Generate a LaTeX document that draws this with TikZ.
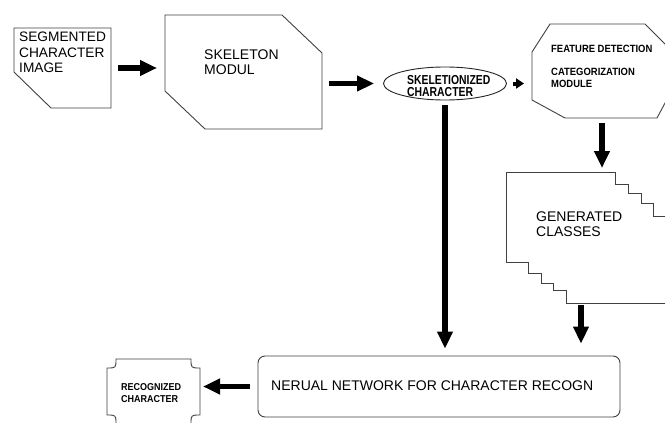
\documentclass[tikz,border=0pt]{standalone}
\usepackage{fontspec}
\setmainfont{Liberation Sans}
\newfontfamily\condfont[FakeStretch=0.8]{Liberation Sans}
\newfontfamily\semicond[FakeStretch=0.9]{Liberation Sans}
\usetikzlibrary{arrows.meta,shapes.geometric}
\begin{document}
\begin{tikzpicture}[x=1pt,y=-1pt,
  outline/.style={draw=black!75, line width=0.9pt, line join=miter},
  box/.style={draw=none, inner sep=0pt, outer sep=0pt, rectangle},
  txt/.style={inner sep=0pt, anchor=north west, align=left, text=black},
  fat/.style={line width=5.5pt, -{Triangle[length=17pt,width=15pt]}},
  smallarr/.style={line width=4pt, -{Triangle[length=8pt,width=10pt]}}
]
\clip (0,0) rectangle (665,423);
\fill[white] (0,0) rectangle (665,423);

% bounding nodes of the shapes
\node[box, minimum width=97pt, minimum height=80pt] (seg) at (62.5,68) {};
\node[box, minimum width=157pt, minimum height=114pt] (skel) at (243.5,72) {};
\node[draw=black!85, line width=0.9pt, ellipse, inner sep=0pt, minimum width=123pt, minimum height=33pt] (ell) at (445,83.5) {};
\node[box, minimum width=140pt, minimum height=94pt] (feat) at (602,71) {};
\node[box, minimum width=190pt, minimum height=131pt] (gen) at (601,237.5) {};
\node[draw=black!75, line width=0.9pt, rounded corners=7pt, inner sep=0pt, minimum width=362pt, minimum height=61pt] (nn) at (439,386.5) {};
\node[box, minimum width=93pt, minimum height=65pt] (rec) at (153.5,391.5) {};

% outlines
\draw[outline] (14,28) -- (111,28) -- (111,108) -- (51,108) -- (14,72) -- cycle;
\draw[outline] (165,15) -- (282,15) -- (322,53) -- (322,129) -- (205,129) -- (165,91) -- cycle;
\draw[outline] (550,24) -- (645,24) -- (672,51) -- (672,90) -- (657,118) -- (565,118) -- (532,100) -- (532,52) -- cycle;
\draw[outline] (700,216) -- (653,216) -- (653,203) -- (641,203) -- (641,193) -- (628,193) -- (628,184) -- (615,184) -- (615,172) -- (506,172) -- (506,262) -- (528,262) -- (528,273) -- (541,273) -- (541,283) -- (553,283) -- (553,290) -- (566,290) -- (566,303) -- (700,303);
\draw[outline] (116,359) -- (191,359) .. controls (191,368) .. (200,368) -- (200,415) .. controls (191,415) .. (191,424) -- (116,424) .. controls (116,415) .. (107,415) -- (107,368) .. controls (116,368) .. (116,359) -- cycle;

% texts
\node[txt, font=\fontsize{13.7}{15.5}\selectfont] (segt) at (19,32) {SEGMENTED\\CHARACTER\\IMAGE};
\node[txt, font=\fontsize{14}{15}\selectfont] (skelt) at (204,50) {SKELETON\\MODUL};
\node[txt, font=\condfont\bfseries\fontsize{13}{12}\selectfont] (ellt) at (407,75) {SKELETIONIZED\\CHARACTER};
\node[txt, font=\semicond\bfseries\fontsize{10.5}{12}\selectfont] (featt) at (551,45) {FEATURE DETECTION};
\node[txt, font=\semicond\bfseries\fontsize{10.5}{12}\selectfont] (catt) at (551,68) {CATEGORIZATION\\MODULE};
\node[txt, font=\fontsize{14}{15}\selectfont] (gent) at (536,212) {GENERATED\\CLASSES};
\node[txt, font=\fontsize{14}{15}\selectfont] (nnt) at (271,381) {NERUAL NETWORK FOR CHARACTER RECOGN};
\node[txt, font=\semicond\bfseries\fontsize{10}{12}\selectfont] (rect) at (121,383) {RECOGNIZED\\CHARACTER};

% connectors
\draw[fat, shorten <=7pt, shorten >=8pt] (seg.east) -- (seg.east -| skel.west);
\draw[fat, shorten <=7pt, shorten >=9pt] (skel.east |- ell.west) -- (ell.west);
\draw[smallarr, shorten <=6pt, shorten >=8pt] (ell.east) -- (ell.east -| feat.west);
\draw[fat, shorten <=5pt, shorten >=4pt] (feat.south) -- (feat.south |- gen.north);
\draw[fat, shorten <=5pt, shorten >=7pt] (ell.south) -- (ell.south |- nn.north);
\draw[fat, shorten <=2pt, shorten >=12pt] ([xshift=-20pt]gen.south) -- ([xshift=-20pt]gen.south |- nn.north);
\draw[fat, shorten <=8pt, shorten >=3pt] (nn.west) -- (nn.west -| rec.east);
\end{tikzpicture}
\end{document}
